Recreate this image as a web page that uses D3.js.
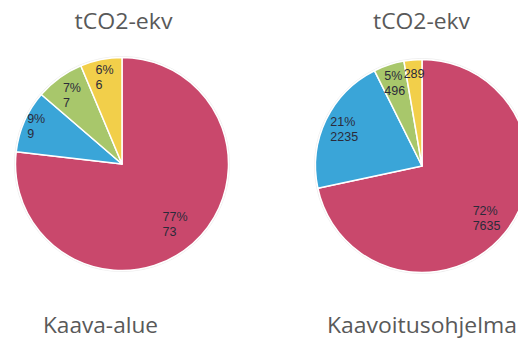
<!DOCTYPE html>
<html>
<head>
<meta charset="utf-8">
<script src="https://cdn.jsdelivr.net/npm/d3@7"></script>
<style>
  body { margin: 0; background: #fff; }
  svg { display: block; }
</style>
</head>
<body>
<div id="canvas"></div>
<script>
// data
var categories = ['A', 'B', 'C', 'D'];
var kaavaAlue = [73, 9, 7, 6];
var kaavoitusohjelma = [7635, 2235, 496, 289];
var unitTitle = 'tCO2-ekv';
var chartTitles = ['Kaava-alue', 'Kaavoitusohjelma'];
var colors = ['#C9486C', '#3AA5D8', '#A8C76B', '#F2CF4A'];

var w = 518, h = 339;

var svg = d3.select('#canvas')
    .append('svg')
    .attr('width', w)
    .attr('height', h);

// layout per chart
var charts = [
    {values: kaavaAlue, cx: 122, cy: 164, r: 106.5, title: chartTitles[0],
     topX: 123.5, botX: 100.5, topLen: 98, botLen: 115,
     labelR: [0.75, 0.88, 0.8, 0.835], hidePct: []},
    {values: kaavoitusohjelma, cx: 422, cy: 166, r: 106.5, title: chartTitles[1],
     topX: 421.5, botX: 422, topLen: 97, botLen: 190,
     labelR: [0.78, 0.81, 0.82, 0.87], hidePct: [3]}
];

var pie = d3.pie().sort(null).value(function(d){ return d; });

charts.forEach(function(c){
    var g = svg.append('g')
        .attr('transform', 'translate(' + c.cx + ',' + c.cy + ')');

    var total = d3.sum(c.values);
    var arcs = pie(c.values);
    var arc = d3.arc().innerRadius(0).outerRadius(c.r);

    g.append('circle')
        .attr('r', c.r + 1)
        .attr('fill', 'none')
        .attr('stroke', '#eee')
        .attr('stroke-width', 1);

    g.selectAll('path')
        .data(arcs)
        .enter()
        .append('path')
        .attr('d', arc)
        .attr('fill', function(d, i){ return colors[i]; })
        .attr('stroke', '#fff')
        .attr('stroke-width', 1.5)
        .attr('stroke-linejoin', 'round');

    // labels
    arcs.forEach(function(d, i){
        var lr = c.labelR[i] * c.r;
        var la = d3.arc().innerRadius(lr).outerRadius(lr);
        var p = la.centroid(d);
        var pct = Math.round(d.value / total * 100) + '%';
        var lines = c.hidePct.indexOf(i) >= 0 ? [String(d.value)] : [pct, String(d.value)];

        var t = g.append('text')
            .attr('font-family', 'Liberation Sans, Arial, sans-serif')
            .attr('font-size', 12.5)
            .attr('fill', '#2b2b3a');
        lines.forEach(function(s, k){
            t.append('tspan')
                .attr('x', 0)
                .attr('dy', k === 0 ? 0 : 15)
                .text(s);
        });
        var bw = t.node().getBBox().width;
        var bh = (lines.length - 1) * 15;
        t.attr('transform', 'translate(' + (p[0] - bw / 2) + ',' + (p[1] - bh / 2 + 4.5) + ')');
    });

    svg.append('text')
        .attr('x', c.topX)
        .attr('y', 29)
        .attr('text-anchor', 'middle')
        .attr('font-family', 'Open Sans, sans-serif')
        .attr('font-size', 21.5)
        .attr('textLength', c.topLen)
        .attr('lengthAdjust', 'spacingAndGlyphs')
        .attr('fill', '#595959')
        .text(unitTitle);

    svg.append('text')
        .attr('x', c.botX)
        .attr('y', 333)
        .attr('text-anchor', 'middle')
        .attr('font-family', 'Open Sans, sans-serif')
        .attr('font-size', 22)
        .attr('textLength', c.botLen)
        .attr('lengthAdjust', 'spacingAndGlyphs')
        .attr('fill', '#595959')
        .text(c.title);
});
</script>
</body>
</html>
